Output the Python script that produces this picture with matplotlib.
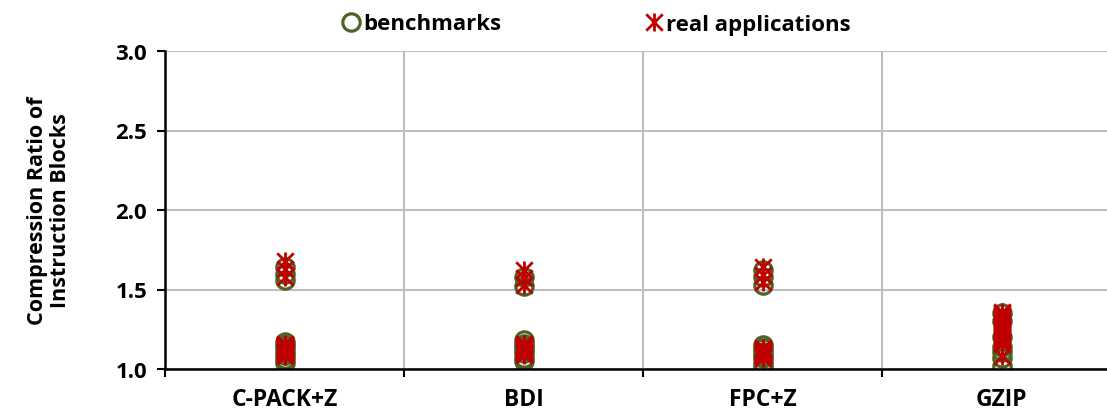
import numpy as np
import matplotlib
matplotlib.use('Agg')
import matplotlib.pyplot as plt
from matplotlib.path import Path

plt.rcParams['font.family'] = ['Open Sans', 'DejaVu Sans']
plt.rcParams['font.weight'] = 'bold'

categories = ['C-PACK+Z', 'BDI', 'FPC+Z', 'GZIP']

# compression ratios, one list per scheme
bench_cpack = [1.56, 1.60, 1.64, 1.04, 1.06, 1.09, 1.11, 1.13, 1.15, 1.17]
bench_bdi = [1.52, 1.58, 1.05, 1.07, 1.10, 1.12, 1.14, 1.16, 1.18]
bench_fpc = [1.53, 1.58, 1.62, 1.01, 1.04, 1.07, 1.09, 1.11, 1.13, 1.15]
bench_gzip = [1.35, 1.30, 1.02, 1.07, 1.11, 1.14, 1.20]

real_cpack = [1.58, 1.63, 1.68, 1.08, 1.085, 1.09, 1.095, 1.10, 1.105, 1.11, 1.115, 1.12,
              1.125, 1.13, 1.135, 1.14, 1.145, 1.15, 1.155, 1.16]
real_bdi = [1.53, 1.57, 1.62, 1.09, 1.095, 1.10, 1.105, 1.11, 1.115, 1.12, 1.125, 1.13,
            1.135, 1.14, 1.145, 1.15, 1.155, 1.16]
real_fpc = [1.55, 1.59, 1.64, 1.07, 1.075, 1.08, 1.085, 1.09, 1.095, 1.10, 1.105, 1.11,
            1.115, 1.12, 1.125, 1.13]
real_gzip = [1.36, 1.35, 1.34, 1.33, 1.32, 1.31, 1.30, 1.29, 1.28, 1.27, 1.26, 1.25, 1.24,
             1.23, 1.22, 1.21, 1.20, 1.19, 1.18, 1.17, 1.16, 1.08]

bench = [bench_cpack, bench_bdi, bench_fpc, bench_gzip]
real = [real_cpack, real_bdi, real_fpc, real_gzip]

green = '#4F6228'
red = '#C00000'

# excel-like star: an X with a vertical bar
star = Path([(-1, -1), (1, 1), (-1, 1), (1, -1), (0, -1.1), (0, 1.1)],
            [Path.MOVETO, Path.LINETO, Path.MOVETO, Path.LINETO, Path.MOVETO, Path.LINETO])

fig = plt.figure(figsize=(11.07, 4.14), dpi=100)
ax = fig.add_axes([165 / 1107, 44 / 414, 956 / 1107, 318 / 414])

for i, (b, r) in enumerate(zip(bench, real)):
    ax.plot([i] * len(b), b, linestyle='none', marker='o', markersize=12.5,
            markerfacecolor='none', markeredgecolor=green, markeredgewidth=2.3,
            label='benchmarks' if i == 0 else None, zorder=3)
    ax.plot([i] * len(r), r, linestyle='none', marker=star, markersize=13,
            color=red, markeredgewidth=2.0,
            label='real applications' if i == 0 else None, zorder=4)

ax.set_xlim(-0.5, 3.5)
ax.set_ylim(1.0, 3.0)
ax.set_yticks([1.0, 1.5, 2.0, 2.5, 3.0])
ax.set_yticklabels(['%.1f' % v for v in [1.0, 1.5, 2.0, 2.5, 3.0]], fontweight='bold')

ax.set_xticks([-0.5, 0.5, 1.5, 2.5])
ax.set_xticklabels([])
ax.set_xticks(range(len(categories)), minor=True)
ax.set_xticklabels(categories, minor=True, fontweight='bold')
ax.tick_params(axis='x', which='minor', length=0, pad=13, labelsize=16.5)
ax.tick_params(axis='x', which='major', length=6, width=1.5, direction='out')
ax.tick_params(axis='y', length=6, width=1.5, direction='out', labelsize=16, pad=7)

ax.grid(True, which='major', color='#BEBEBE', linewidth=1.5)
ax.set_axisbelow(True)
for s in ['top', 'right']:
    ax.spines[s].set_visible(False)
for s in ['left', 'bottom']:
    ax.spines[s].set_linewidth(1.8)
    ax.spines[s].set_zorder(5)

ax.set_ylabel('Compression Ratio of\nInstruction Blocks', fontsize=15.5, fontweight='bold',
              labelpad=32, linespacing=1.1)

fig.legend(loc='center', bbox_to_anchor=(595 / 1107, 1 - 25 / 414), ncol=2,
           frameon=False, prop={'size': 16, 'weight': 'bold'}, handletextpad=0.0,
           columnspacing=6.3, handlelength=1.1)

fig.savefig('out.png', dpi=100)
